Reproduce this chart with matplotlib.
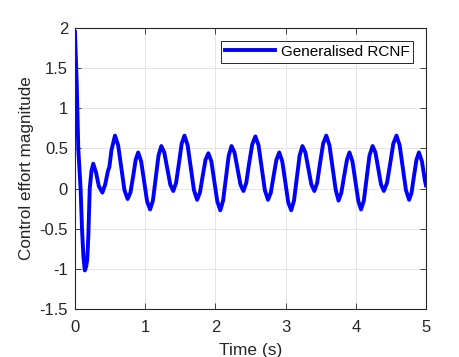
import matplotlib
matplotlib.use('Agg')
import matplotlib.pyplot as plt

plt.rcParams.update({
    'font.family': ['Liberation Sans', 'DejaVu Sans'],
    'figure.facecolor': 'white',
    'axes.facecolor': 'white',
    'xtick.direction': 'in',
    'ytick.direction': 'in',
    'xtick.top': True,
    'ytick.right': True,
})

BLUE = '#0000FF'
DARK = '#262626'

# ── data ───────────────────────────────────────────────────────────────────────
t_start = [0.0, 0.025, 0.047, 0.08, 0.10, 0.12, 0.14, 0.16, 0.175, 0.19, 0.21,
           0.235, 0.26, 0.30, 0.34, 0.39, 0.43, 0.47, 0.49, 0.52, 0.57]
u_start = [1.95, 1.30, 0.50, 0.00, -0.50, -0.85, -1.02, -0.97, -0.88, -0.60, 0.00,
           0.22, 0.31, 0.20, 0.03, -0.05, 0.05, 0.22, 0.27, 0.48, 0.66]

t_c1 = [0.615, 0.66, 0.705, 0.75, 0.79, 0.83, 0.865, 0.90, 0.9425, 0.985, 1.0275,
        1.07, 1.11, 1.15, 1.19, 1.23, 1.2725, 1.315, 1.3575, 1.40, 1.44, 1.48,
        1.52, 1.56]
u_c1 = [0.54, 0.26, -0.02, -0.13, -0.05, 0.16, 0.36, 0.45, 0.34, 0.09, -0.16,
        -0.26, -0.15, 0.13, 0.41, 0.53, 0.45, 0.25, 0.05, -0.03, 0.07, 0.31,
        0.56, 0.66]

t_c2 = [1.605, 1.65, 1.695, 1.74, 1.78, 1.82, 1.86, 1.90, 1.9425, 1.985, 2.0275,
        2.07, 2.11, 2.15, 2.19, 2.23, 2.2725, 2.315, 2.3575, 2.40, 2.44, 2.48,
        2.525, 2.57]
u_c2 = [0.54, 0.26, -0.02, -0.14, -0.05, 0.16, 0.36, 0.44, 0.34, 0.09, -0.16,
        -0.27, -0.15, 0.13, 0.41, 0.53, 0.45, 0.25, 0.05, -0.03, 0.07, 0.31,
        0.55, 0.65]

t_c3 = [2.615, 2.66, 2.705, 2.75, 2.79, 2.83, 2.87, 2.91, 2.9525, 2.995, 3.0375,
        3.08, 3.12, 3.16, 3.20, 3.24, 3.2825, 3.325, 3.3675, 3.41, 3.45, 3.49,
        3.535, 3.58]
u_c3 = [0.54, 0.26, -0.02, -0.14, -0.05, 0.16, 0.36, 0.45, 0.34, 0.09, -0.17,
        -0.27, -0.15, 0.13, 0.41, 0.53, 0.45, 0.25, 0.05, -0.03, 0.07, 0.31,
        0.56, 0.66]

t_c4 = [3.625, 3.67, 3.715, 3.755, 3.795, 3.835, 3.875, 3.91, 3.9525, 3.995, 4.0375,
        4.075, 4.115, 4.155, 4.195, 4.24, 4.28, 4.32, 4.36, 4.40, 4.445, 4.49,
        4.535, 4.58]
u_c4 = [0.54, 0.26, -0.02, -0.15, -0.05, 0.16, 0.36, 0.45, 0.34, 0.09, -0.16,
        -0.26, -0.15, 0.13, 0.41, 0.53, 0.45, 0.25, 0.05, -0.03, 0.07, 0.31,
        0.56, 0.66]

t_end = [4.625, 4.67, 4.715, 4.76, 4.795, 4.83, 4.865, 4.90, 4.9425, 4.985, 5.0]
u_end = [0.54, 0.26, -0.02, -0.14, -0.05, 0.16, 0.36, 0.45, 0.34, 0.10, 0.04]

t = t_start + t_c1 + t_c2 + t_c3 + t_c4 + t_end
u = u_start + u_c1 + u_c2 + u_c3 + u_c4 + u_end

x_ticks = [0, 1, 2, 3, 4, 5]
y_ticks = [-1.5, -1, -0.5, 0, 0.5, 1, 1.5, 2]
y_tick_labels = ['-1.5', '-1', '-0.5', '0', '0.5', '1', '1.5', '2']

# ── figure ────────────────────────────────────────────────────────────────────
fig = plt.figure(figsize=(4.6, 3.57), dpi=100)
ax = fig.add_axes([0.163, 0.1345, 0.763, 0.787])

ax.plot(t, u, color=BLUE, linewidth=2.8, label='Generalised RCNF',
        solid_joinstyle='round')

ax.set_xlim(0, 5)
ax.set_ylim(-1.5, 2)
ax.set_xticks(x_ticks)
ax.set_yticks(y_ticks)
ax.set_yticklabels(y_tick_labels)
ax.grid(True, color='#DFDFDF', linewidth=0.6)
ax.set_axisbelow(True)

for sp in ax.spines.values():
    sp.set_color(DARK)
    sp.set_linewidth(0.8)
ax.tick_params(colors=DARK, labelsize=12, length=4, width=0.6)
ax.tick_params(axis='x', pad=8)
ax.tick_params(axis='y', pad=5)

ax.set_xlabel('Time (s)', fontsize=12.5, color=DARK, labelpad=6)
ax.set_ylabel('Control effort magnitude', fontsize=12.3, color=DARK, labelpad=4)

leg = ax.legend(loc='upper right', fontsize=11, fancybox=False,
                framealpha=1, borderaxespad=0.85, handlelength=3.3,
                handletextpad=0.35, borderpad=0.25)
leg.get_frame().set_edgecolor(DARK)
leg.get_frame().set_linewidth(0.7)

fig.savefig('out.png', dpi=100, facecolor='white')
